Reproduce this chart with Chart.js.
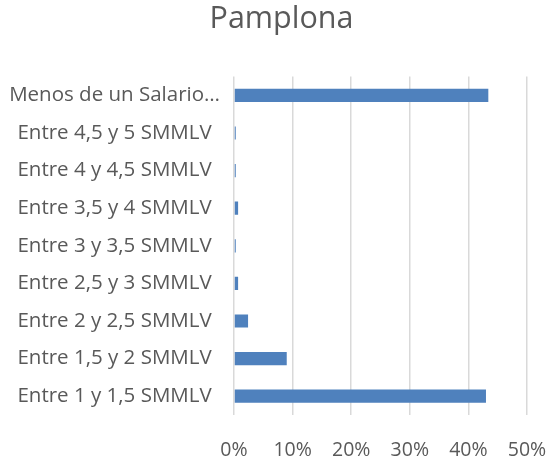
<!DOCTYPE html>
<html>
<head>
<meta charset="utf-8">
<script src="https://cdn.jsdelivr.net/npm/chart.js@4/dist/chart.umd.min.js"></script>
<style>
html,body{margin:0;padding:0;background:#fff;}
#wrap{width:548px;height:460px;position:relative;}
</style>
</head>
<body>
<div id="wrap"><canvas id="c" width="548" height="460"></canvas></div>
<script>
const title = "Pamplona";
const categories = [
  "Menos de un Salario…",
  "Entre 4,5 y 5 SMMLV",
  "Entre 4 y 4,5 SMMLV",
  "Entre 3,5 y 4 SMMLV",
  "Entre 3 y 3,5 SMMLV",
  "Entre 2,5 y 3 SMMLV",
  "Entre 2 y 2,5 SMMLV",
  "Entre 1,5 y 2 SMMLV",
  "Entre 1 y 1,5 SMMLV"
];
const values = [43.4, 0.3, 0.3, 0.7, 0.3, 0.7, 2.4, 9.0, 43.0];
const xTicks = [0, 10, 20, 30, 40, 50];

const font = "'Open Sans', 'Noto Sans', sans-serif";

const titleShift = {
  id: 'titleShift',
  afterLayout(chart) {
    const t = chart.titleBlock;
    if (t) { t.left += 36; }
  }
};

new Chart(document.getElementById('c'), {
  type: 'bar',
  data: {
    labels: categories,
    datasets: [{
      data: values,
      backgroundColor: '#4f81bd',
      borderWidth: 0,
      barPercentage: 0.35,
      categoryPercentage: 1.0
    }]
  },
  plugins: [titleShift],
  options: {
    indexAxis: 'y',
    responsive: false,
    animation: false,
    layout: { padding: { left: 0, right: 21, top: 0, bottom: 0 } },
    plugins: {
      legend: { display: false },
      tooltip: { enabled: false },
      title: {
        display: true,
        text: title,
        color: '#595959',
        font: { family: font, size: 30.5, weight: 'normal' },
        padding: { top: 1, bottom: 39 }
      }
    },
    scales: {
      x: {
        min: 0, max: 50,
        afterBuildTicks: (s) => { s.ticks = xTicks.map(v => ({ value: v })); },
        afterFit: (s) => { s.height = 45; s.paddingLeft = 0; s.paddingRight = 0; },
        grid: { color: '#d9d9d9', lineWidth: 1.5, drawTicks: false },
        border: { display: false },
        ticks: {
          callback: (v) => v + '%',
          color: '#595959',
          font: { family: font, size: 19.5 },
          padding: 24,
          maxRotation: 0
        }
      },
      y: {
        afterFit: (s) => { s.width = 234; },
        grid: { display: false, drawTicks: false },
        border: { display: false },
        ticks: {
          color: '#595959',
          font: { family: font, size: 20.5 },
          padding: 14,
          crossAlign: 'center',
          autoSkip: false
        }
      }
    }
  }
});
</script>
</body>
</html>
